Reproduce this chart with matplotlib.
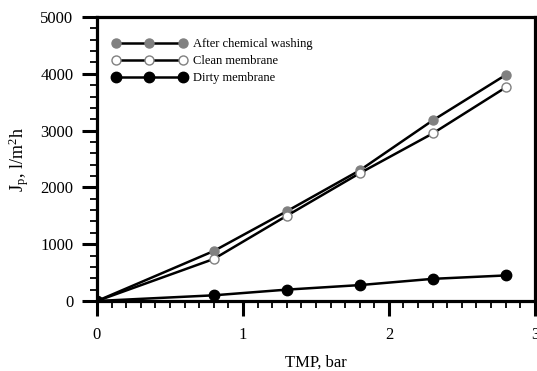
import matplotlib
matplotlib.use('Agg')
import matplotlib.pyplot as plt
from matplotlib.ticker import MultipleLocator

plt.rcParams['font.family'] = ['Liberation Serif', 'DejaVu Serif']
plt.rcParams['mathtext.fontset'] = 'stix'

# TMP, bar
tmp = [0, 0.8, 1.3, 1.8, 2.3, 2.8]
# permeate flux, l/m2h
after_wash = [0, 880, 1580, 2300, 3180, 3980]
clean = [0, 740, 1500, 2250, 2950, 3760]
dirty = [0, 100, 200, 280, 390, 450]

fig = plt.figure(figsize=(5.37, 3.71), dpi=100)
ax = fig.add_axes([0.1806, 0.1887, 0.8154, 0.7653])

ax.plot(tmp, after_wash, '-o', color='black', lw=1.8, ms=6.5,
        mfc='#808080', mec='#808080', label='After chemical washing', zorder=3)
ax.plot(tmp, clean, '-o', color='black', lw=1.8, ms=6.5,
        mfc='white', mec='#808080', mew=1.0, label='Clean membrane', zorder=3)
ax.plot(tmp, dirty, '-o', color='black', lw=1.8, ms=7.5,
        mfc='black', mec='black', label='Dirty membrane', zorder=3)

ax.set_xlim(0, 3)
ax.set_ylim(0, 5000)
ax.xaxis.set_major_locator(MultipleLocator(1))
ax.xaxis.set_minor_locator(MultipleLocator(0.1))
ax.yaxis.set_major_locator(MultipleLocator(1000))
ax.yaxis.set_minor_locator(MultipleLocator(200))
ax.tick_params(which='major', direction='out', length=11, width=2.2, labelsize=12)
ax.tick_params(which='minor', direction='out', length=5, width=1.3)
ax.tick_params(axis='x', which='major', pad=8)
ax.tick_params(axis='y', which='major', pad=6)
for s in ax.spines.values():
    s.set_linewidth(2.3)

ax.set_xlabel('TMP, bar', fontsize=12, labelpad=8)
ax.set_ylabel(r'J$_\mathregular{p}$, l/m$^\mathregular{2}$h', fontsize=13, labelpad=6)

ax.legend(loc='upper left', frameon=False, numpoints=3, handlelength=5.9,
          fontsize=9, labelspacing=0.4, handletextpad=0.5,
          bbox_to_anchor=(0.01, 0.965))

fig.savefig('out.png', dpi=100)
